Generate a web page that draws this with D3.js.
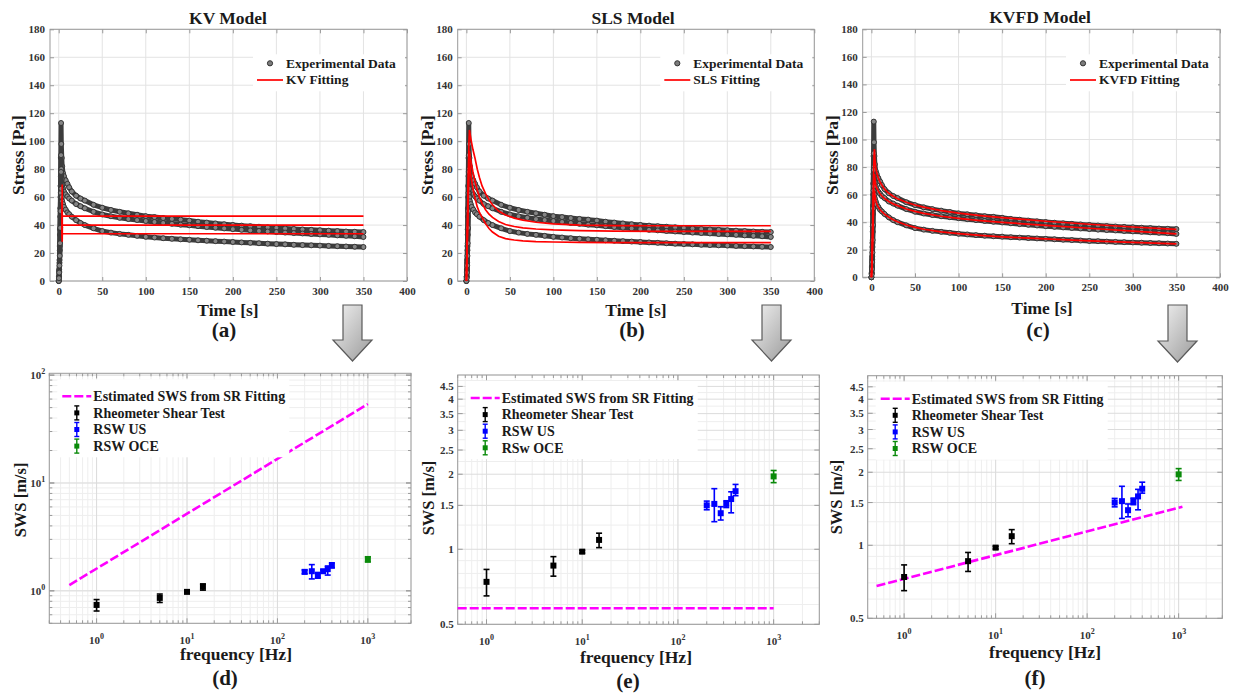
<!DOCTYPE html>
<html><head><meta charset="utf-8">
<script src="https://cdn.jsdelivr.net/npm/d3@7"></script>
<style>
body{margin:0;background:#fff}
svg{display:block}
text{font-family:"Liberation Serif","Times New Roman",serif;font-weight:bold}
</style>
</head><body>
<svg id="c" width="1233" height="694"></svg>
<script>
// ---------------- DATA ----------------
const timeTicks=[0,50,100,150,200,250,300,350,400];
const stressTicks=[0,20,40,60,80,100,120,140,160,180];
const tData=[0,0.3,0.6,0.9,1.2,1.5,1.8,2.1,2.4,2.7,3,3.5,4,5,6,8,10,12,15,20,25,30,40,50,60,70,80,90,100,110,120,130,140,150,160,170,180,190,200,210,220,230,240,250,260,270,280,290,300,310,320,330,340,350];
const stressA=[0,3,8,15,25,37,52,68,88,113,98,88,82,77,75,72,69.5,67,64,61,59,57.5,54.5,52.4,50.8,49.5,48.4,47.4,46.4,45.7,45,44.4,43.9,43.2,42.4,41.8,41.2,40.6,40.1,39.6,39.2,38.8,38.4,38,37.6,37.2,36.9,36.6,36.3,36,35.7,35.4,35.2,35];
const stressB=[0,3,7,13,22,33,46,60,75,90,80,73,69,66,64,62,60.5,59,57.5,55,53.5,52,49.5,47.6,46.3,45.2,44.3,43.6,42.9,42.2,41.5,40.9,40.3,39.8,39.2,38.6,38.1,37.6,37.1,36.6,36.2,35.8,35.4,35,34.6,34.3,34,33.6,33.3,33,32.6,32.3,32,31.5];
const stressC=[0,2,6,11,18,27,38,50,63,78,66,60,57,55,53,51,49,47.8,46,43.5,41.5,40,37.7,35.7,34.6,33.7,33,32.3,31.6,31.1,30.6,30.2,29.8,29.5,29.1,28.8,28.5,28.2,27.9,27.6,27.3,27,26.7,26.4,26.2,25.9,25.7,25.5,25.3,25.1,24.9,24.7,24.5,24.3];

const tKV=[4,4,4,350];
const kvA=[32,69,46.4,46.4];
const kvB=[30,60,39.9,39.9];
const kvC=[28,52,33.8,33.8];

const tSLS=[0,1,2,3,3.5,5,7.5,10,12.5,15,18,22,26,30,37,45,55,65,80,100,130,170,220,280,350];
const slsA=[0,35,72,100,108,102,94,87.5,80,74,68,62.5,58,54.5,50,47.2,45,43.5,42,40.8,40,39.6,39.5,39.5,39.5];
const slsB=[0,30,62,88,93,86,78,71,65,60,55.5,51,47.8,45.5,42.6,40.4,39,38,37.2,36.5,36,35.7,35.5,35.5,35.5];
const slsC=[0,27,56,80,85,76,66,59,53,49,45.5,41,37.5,35,32,30.3,29.3,28.7,28.2,27.9,27.6,27.5,27.5,27.5,27.5];

const tKVFD=[0,0.5,1,1.5,2,2.5,3,3.5,4,5,6,8,10,12,15,20,25,30,40,50,60,80,100,125,150,175,200,250,300,350];
const kvfdA=[0,10,25,42,60,76,88,93,86,79,76,72,69,67,64,61,58.8,57,54.5,52.5,50.9,48.4,46.6,44.8,43.3,42,40.7,38.5,36.5,34.8];
const kvfdB=[0,8,20,34,48,61,71,75,71,67,65,62.5,60.5,59,57.2,55,53.3,52,49.6,47.8,46.4,44.3,42.8,41.2,39.9,38.8,37.7,35.6,33.5,31.5];
const kvfdC=[0,6,16,28,40,51,59,63,60,56,53.5,50.8,49,47.6,45.8,43.6,41.8,40.3,38,36.2,34.9,33,31.7,30.4,29.4,28.6,27.9,26.5,25.3,24.3];

const rheoFreq=[1,5,10,15];
const rheoSWS=[0.74,0.86,0.978,1.09];
const rheoLo=[0.65,0.78,0.965,1.015];
const rheoHi=[0.83,0.934,0.99,1.16];
const usFreq=[200,240,280,320,360,400];
const usSWS=[1.50,1.52,1.395,1.52,1.59,1.71];
const usLo=[1.44,1.29,1.31,1.47,1.40,1.64];
const usHi=[1.56,1.75,1.48,1.565,1.70,1.82];
const oceFreq=[1000];
const oceSWS=[1.96];
const oceLo=[1.85];
const oceHi=[2.07];

const estFreqKV=[0.5,1000],  estSWSKV=[1.13,54];
const estFreqSLS=[0.5,1000], estSWSSLS=[0.58,0.58];
const estFreqKVFD=[0.5,1100],estSWSKVFD=[0.68,1.44];

const swsTicksLin=[0.5,1,1.5,2,2.5,3,3.5,4,4.5];
const swsTicksLog=[1,10,100];
const freqTicks=[1,10,100,1000];

// ---------------- DRAWING ----------------
const svg=d3.select('#c');
const defs=svg.append('defs');
const gr=defs.append('linearGradient').attr('id','arrowGrad').attr('x1','0').attr('y1','0').attr('x2','1').attr('y2','1');
gr.append('stop').attr('offset','0').attr('stop-color','#f2f2f2');
gr.append('stop').attr('offset','1').attr('stop-color','#9a9a9a');

function txt(g,x,y,s,size,anchor,rot,fill){
  const t=g.append('text').attr('x',x).attr('y',y).attr('font-size',size)
    .attr('text-anchor',anchor||'middle').attr('fill',fill||'#1a1a1a').text(s);
  if(rot) t.attr('transform',`rotate(${rot},${x},${y})`);
  return t;
}
const GRID='#e3e3e3', FRAME='#9a9a9a', TICKC='#333';

function topPanel(P){
  const g=svg.append('g');
  const x=d3.scaleLinear().domain([-10,400]).range([P.L,P.R]);
  const y=d3.scaleLinear().domain([0,180]).range([P.B,P.T]);
  g.append('rect').attr('x',P.L).attr('y',P.T).attr('width',P.R-P.L).attr('height',P.B-P.T).attr('fill','#fff');
  g.append('g').selectAll('line').data(timeTicks).join('line')
    .attr('x1',d=>x(d)).attr('x2',d=>x(d)).attr('y1',P.T).attr('y2',P.B).attr('stroke',GRID);
  g.append('g').selectAll('line').data(stressTicks).join('line')
    .attr('y1',d=>y(d)).attr('y2',d=>y(d)).attr('x1',P.L).attr('x2',P.R).attr('stroke',GRID);
  const ax=[
    g.append('g').attr('transform',`translate(0,${P.B})`).call(d3.axisBottom(x).tickValues(timeTicks).tickSize(-4).tickPadding(6)),
    g.append('g').attr('transform',`translate(${P.L},0)`).call(d3.axisLeft(y).tickValues(stressTicks).tickSize(-4).tickPadding(5)),
    g.append('g').attr('transform',`translate(0,${P.T})`).call(d3.axisTop(x).tickValues(timeTicks).tickSize(-4).tickFormat('')),
    g.append('g').attr('transform',`translate(${P.R},0)`).call(d3.axisRight(y).tickValues(stressTicks).tickSize(-4).tickFormat(''))
  ];
  ax.forEach(a=>{a.select('.domain').remove();a.selectAll('line').attr('stroke',FRAME);
    a.selectAll('text').attr('font-size',11).attr('fill',TICKC).attr('font-family','"Liberation Serif",serif');});
  g.append('rect').attr('x',P.L).attr('y',P.T).attr('width',P.R-P.L).attr('height',P.B-P.T)
    .attr('fill','none').attr('stroke',FRAME);
  // experimental data
  const line=d3.line().x(d=>x(d[0])).y(d=>y(d[1]));
  [stressA,stressB,stressC].forEach(s=>{
    const pts=tData.map((t,i)=>[t,s[i]]);
    g.append('path').attr('d',line(pts)).attr('fill','none').attr('stroke','#3c3c3c')
      .attr('stroke-width',5).attr('stroke-linejoin','round').attr('stroke-linecap','round');
    g.append('g').selectAll('circle').data(pts).join('circle')
      .attr('cx',d=>x(d[0])).attr('cy',d=>y(d[1])).attr('r',2.5)
      .attr('fill','#858585').attr('stroke','#2f2f2f').attr('stroke-width',0.9);
  });
  // fits
  P.fits.forEach(v=>{
    const pts=P.fitT.map((t,i)=>[t,v[i]]);
    g.append('path').attr('d',line(pts)).attr('fill','none').attr('stroke','#ff0000').attr('stroke-width',1.7);
  });
  // legend
  g.append('rect').attr('x',P.R-154).attr('y',P.T+25).attr('width',152).attr('height',37).attr('fill','#fff');
  g.append('circle').attr('cx',P.R-137).attr('cy',P.T+34).attr('r',2.6).attr('fill','#7c7c7c').attr('stroke','#333');
  txt(g,P.R-121,P.T+38.5,'Experimental Data',13.5,'start');
  g.append('line').attr('x1',P.R-150).attr('x2',P.R-124).attr('y1',P.T+50.7).attr('y2',P.T+50.7).attr('stroke','#ff0000').attr('stroke-width',1.7);
  txt(g,P.R-121,P.T+55,P.fitName,13.5,'start');
  // labels
  txt(g,P.titleX,P.titleY,P.title,17.5);
  txt(g,P.xlabX,P.xlabY,'Time [s]',17.5);
  txt(g,P.ylabX,P.ylabY,'Stress [Pa]',17.5,'middle',-90);
  txt(g,P.tagX,P.tagY,P.tag,21);
}

function logLabel(g,x,y,exp,anchor){
  const t=g.append('text').attr('x',x).attr('y',y).attr('font-size',11).attr('fill',TICKC).attr('text-anchor',anchor);
  t.append('tspan').text('10');
  t.append('tspan').attr('dy',-5).attr('font-size',8).text(exp);
  return t;
}

function minorVals(lo,hi){
  const out=[];
  for(let e=-2;e<=4;e++) for(let m=1;m<=9;m++){const v=m*Math.pow(10,e); if(v>=lo*0.999&&v<=hi*1.001) out.push(v);}
  return out;
}

function bottomPanel(P){
  const g=svg.append('g');
  const x=d3.scaleLog().domain(P.xDom).range([P.L,P.R]);
  const y=d3.scaleLog().domain(P.yDom).range([P.B,P.T]);
  g.append('rect').attr('x',P.L).attr('y',P.T).attr('width',P.R-P.L).attr('height',P.B-P.T).attr('fill','#fff');
  const xMinor=minorVals(P.xDom[0],P.xDom[1]);
  let yMinor, yMajor;
  if(P.linTicks){
    yMinor=[0.6,0.7,0.8,0.9,1.25,1.75,2.25,2.75,3.25,3.75,4.25,4.75,5];
    yMajor=swsTicksLin;
  } else {
    yMinor=minorVals(P.yDom[0],P.yDom[1]);
    yMajor=swsTicksLog;
  }
  g.append('g').selectAll('line').data(xMinor).join('line')
    .attr('x1',d=>x(d)).attr('x2',d=>x(d)).attr('y1',P.T).attr('y2',P.B).attr('stroke','#eeeeee');
  g.append('g').selectAll('line').data(yMinor).join('line')
    .attr('y1',d=>y(d)).attr('y2',d=>y(d)).attr('x1',P.L).attr('x2',P.R).attr('stroke','#eeeeee');
  g.append('g').selectAll('line').data(freqTicks).join('line')
    .attr('x1',d=>x(d)).attr('x2',d=>x(d)).attr('y1',P.T).attr('y2',P.B).attr('stroke','#dcdcdc');
  g.append('g').selectAll('line').data(yMajor).join('line')
    .attr('y1',d=>y(d)).attr('y2',d=>y(d)).attr('x1',P.L).attr('x2',P.R).attr('stroke','#dcdcdc');
  // tick marks
  const tk=g.append('g').attr('stroke',FRAME);
  xMinor.forEach(v=>{const len=freqTicks.includes(v)?5:3;
    tk.append('line').attr('x1',x(v)).attr('x2',x(v)).attr('y1',P.B).attr('y2',P.B-len);
    tk.append('line').attr('x1',x(v)).attr('x2',x(v)).attr('y1',P.T).attr('y2',P.T+len);});
  yMajor.concat(P.linTicks?[]:yMinor).forEach(v=>{const len=yMajor.includes(v)?5:3;
    tk.append('line').attr('y1',y(v)).attr('y2',y(v)).attr('x1',P.L).attr('x2',P.L+len);
    tk.append('line').attr('y1',y(v)).attr('y2',y(v)).attr('x1',P.R).attr('x2',P.R-len);});
  g.append('rect').attr('x',P.L).attr('y',P.T).attr('width',P.R-P.L).attr('height',P.B-P.T)
    .attr('fill','none').attr('stroke',FRAME);
  // tick labels
  freqTicks.forEach(v=>logLabel(g,x(v),P.B+21,String(Math.round(Math.log10(v))),'middle'));
  if(P.linTicks){
    yMajor.forEach(v=>g.append('text').attr('x',P.L-4).attr('y',y(v)+4).attr('font-size',11)
      .attr('fill',TICKC).attr('text-anchor','end').text(String(v)));
  } else {
    yMajor.forEach(v=>logLabel(g,P.L-4,y(v)+4,String(Math.round(Math.log10(v))),'end'));
  }
  // estimated SWS line
  const estPts=P.estF.map((f,i)=>[f,P.estS[i]]);
  g.append('path').attr('d',d3.line().x(d=>x(d[0])).y(d=>y(d[1]))(estPts))
    .attr('fill','none').attr('stroke','#ff00ff').attr('stroke-width',2.6).attr('stroke-dasharray','9,3');
  // error bars
  function errSeries(F,S,Lo,Hi,col){
    const eg=g.append('g').attr('stroke',col).attr('stroke-width',1.6);
    F.forEach((f,i)=>{
      const cx=x(f);
      eg.append('line').attr('x1',cx).attr('x2',cx).attr('y1',y(Lo[i])).attr('y2',y(Hi[i]));
      eg.append('line').attr('x1',cx-3).attr('x2',cx+3).attr('y1',y(Lo[i])).attr('y2',y(Lo[i]));
      eg.append('line').attr('x1',cx-3).attr('x2',cx+3).attr('y1',y(Hi[i])).attr('y2',y(Hi[i]));
      eg.append('rect').attr('x',cx-3).attr('y',y(S[i])-3).attr('width',6).attr('height',6).attr('fill',col).attr('stroke','none');
    });
  }
  errSeries(rheoFreq,rheoSWS,rheoLo,rheoHi,'#000');
  errSeries(usFreq,usSWS,usLo,usHi,'#0000ff');
  errSeries(oceFreq,oceSWS,oceLo,oceHi,'#0a8a0a');
  // legend
  const lg=g.append('g');
  lg.append('rect').attr('x',P.L+8).attr('y',P.T+6).attr('width',232).attr('height',78).attr('fill','#fff');
  const rows=[P.T+23,P.T+39.6,P.T+56.2,P.T+72.8];
  lg.append('line').attr('x1',P.L+13).attr('x2',P.L+42).attr('y1',rows[0]).attr('y2',rows[0])
    .attr('stroke','#ff00ff').attr('stroke-width',2.6).attr('stroke-dasharray','9,3');
  const cols=['#000','#0000ff','#0a8a0a'];
  cols.forEach((c,i)=>{
    const yy=rows[i+1], cx=P.L+27.5;
    lg.append('line').attr('x1',cx).attr('x2',cx).attr('y1',yy-7).attr('y2',yy+7).attr('stroke',c).attr('stroke-width',1.4);
    lg.append('line').attr('x1',cx-2.5).attr('x2',cx+2.5).attr('y1',yy-7).attr('y2',yy-7).attr('stroke',c).attr('stroke-width',1.4);
    lg.append('line').attr('x1',cx-2.5).attr('x2',cx+2.5).attr('y1',yy+7).attr('y2',yy+7).attr('stroke',c).attr('stroke-width',1.4);
    lg.append('rect').attr('x',cx-2.5).attr('y',yy-2.5).attr('width',5).attr('height',5).attr('fill',c);
  });
  P.legendText.forEach((s,i)=>txt(lg,P.L+44,rows[i]+4.8,s,14,'start'));
  // labels
  txt(g,P.xlabX,P.xlabY,'frequency [Hz]',17.5);
  txt(g,P.ylabX,P.ylabY,'SWS [m/s]',16.5,'middle',-90);
  txt(g,P.tagX,P.tagY,P.tag,21);
}

function arrow(cx,top,headY,tip){
  const p=`M${cx-9.5},${top} L${cx+9.5},${top} L${cx+9.5},${headY} L${cx+19.5},${headY} L${cx},${tip} L${cx-19.5},${headY} L${cx-9.5},${headY} Z`;
  svg.append('path').attr('d',p).attr('fill','url(#arrowGrad)').attr('stroke','#5a5a5a').attr('stroke-width',1.2);
}

topPanel({L:50,R:407,T:29.3,B:281,fitT:tKV,fits:[kvA,kvB,kvC],fitName:'KV Fitting',title:'KV Model',
  titleX:228,titleY:24,xlabX:228,xlabY:315.5,ylabX:24,ylabY:155,tag:'(a)',tagX:224,tagY:337});
topPanel({L:457.7,R:814.3,T:29.3,B:281,fitT:tSLS,fits:[slsA,slsB,slsC],fitName:'SLS Fitting',title:'SLS Model',
  titleX:633,titleY:24,xlabX:636,xlabY:316,ylabX:432.5,ylabY:155,tag:'(b)',tagX:632,tagY:337});
topPanel({L:862.7,R:1220,T:29.3,B:277.3,fitT:tKVFD,fits:[kvfdA,kvfdB,kvfdC],fitName:'KVFD Fitting',title:'KVFD Model',
  titleX:1040,titleY:23,xlabX:1042,xlabY:314,ylabX:837.5,ylabY:155,tag:'(c)',tagX:1038,tagY:337});

const legA=['Estimated SWS from SR Fitting','Rheometer Shear Test','RSW US','RSW OCE'];
const legB=['Estimated SWS from SR Fitting','Rheometer Shear Test','RSW US','RSw OCE'];
bottomPanel({L:49.3,R:411,T:373.3,B:623.3,xDom:[0.3,3000],yDom:[0.5,104],linTicks:false,
  estF:estFreqKV,estS:estSWSKV,legendText:legA,xlabX:236,xlabY:660,ylabX:26.3,ylabY:500,tag:'(d)',tagX:225,tagY:685});
bottomPanel({L:457.7,R:819.3,T:375,B:624.3,xDom:[0.5,3000],yDom:[0.5,5],linTicks:true,
  estF:estFreqSLS,estS:estSWSSLS,legendText:legB,xlabX:636,xlabY:663,ylabX:434,ylabY:498,tag:'(e)',tagX:628,tagY:688});
bottomPanel({L:867.7,R:1222.3,T:375.7,B:618.3,xDom:[0.4,3000],yDom:[0.5,5],linTicks:true,
  estF:estFreqKVFD,estS:estSWSKVFD,legendText:legA,xlabX:1045,xlabY:658,ylabX:842.3,ylabY:497,tag:'(f)',tagX:1035,tagY:685});

arrow(352.5,305,340,361);
arrow(771.5,305,340,361);
arrow(1177.5,305,341,362);
</script>
</body></html>
